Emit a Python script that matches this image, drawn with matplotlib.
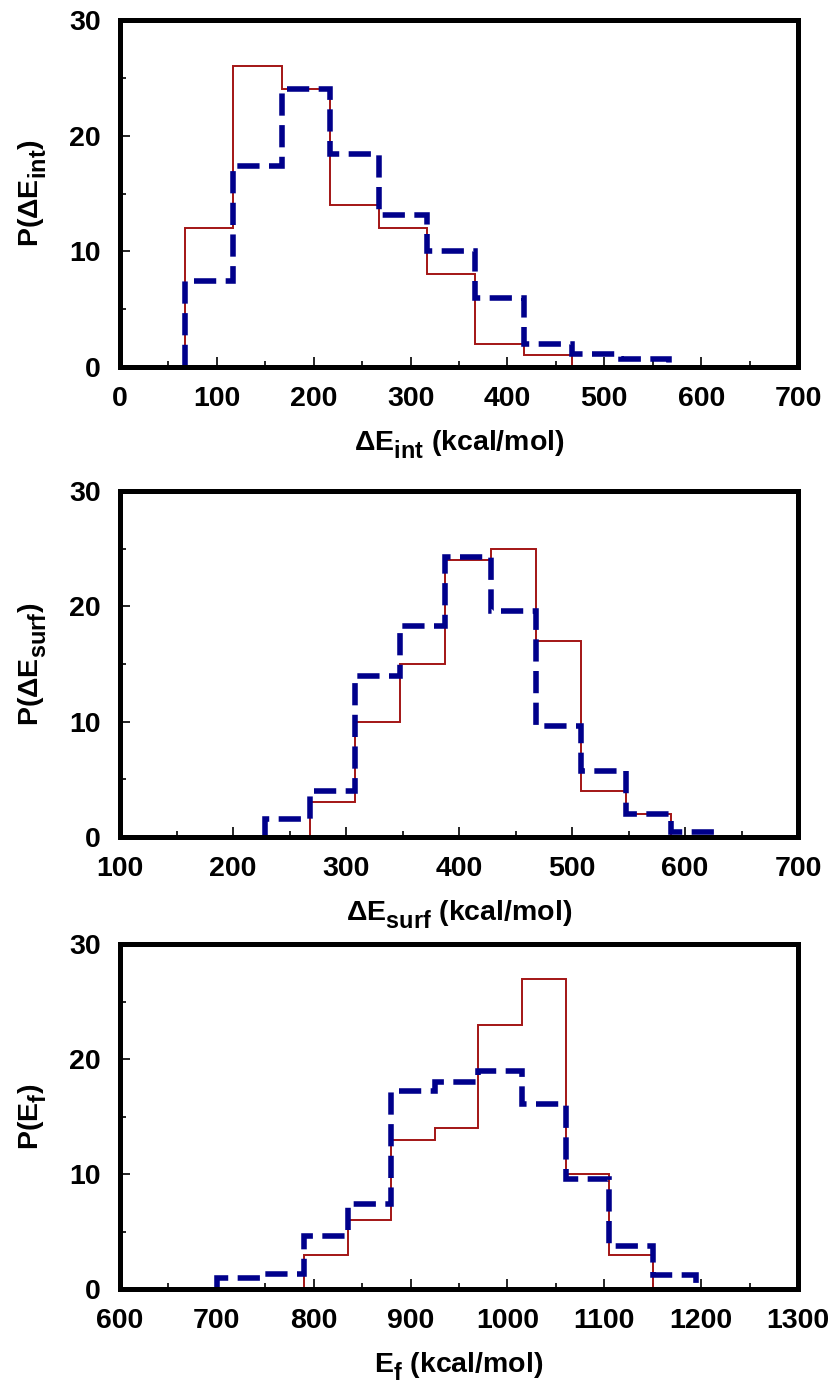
import matplotlib
matplotlib.use("Agg")
import matplotlib.pyplot as plt
from matplotlib.ticker import MultipleLocator
import matplotlib._mathtext as _mt

# larger, lower subscripts, like the reference
_mt.SHRINK_FACTOR = 0.82
_mt.FontConstantsBase.sub1 = 0.55
_mt.FontConstantsBase.sub2 = 0.6

plt.rcParams['font.family'] = ['Liberation Sans', 'DejaVu Sans']
plt.rcParams['font.weight'] = 'bold'
plt.rcParams['mathtext.fontset'] = 'custom'
plt.rcParams['mathtext.rm'] = 'Liberation Sans:bold'
plt.rcParams['mathtext.it'] = 'Liberation Sans:bold'
plt.rcParams['mathtext.bf'] = 'Liberation Sans:bold'

# Panel 1: interaction energy
red1_edges = [67, 117, 167, 217, 267, 317, 367, 417, 467]
red1_vals = [12, 26, 24, 14, 12, 8, 2, 1]
blue1_edges = [67, 117, 167, 217, 267, 317, 367, 417, 467, 517, 567]
blue1_vals = [7.4, 17.4, 24, 18.4, 13.1, 10, 6, 2, 1.1, 0.7]

# Panel 2: surface energy
red2_edges = [228, 268, 308, 348, 388, 428, 468, 508, 548, 588]
red2_vals = [0, 3, 10, 15, 24, 25, 17, 4, 2]
blue2_edges = [228, 268, 308, 348, 388, 428, 468, 508, 548, 588, 628]
blue2_vals = [1.6, 4, 14, 18.3, 24.3, 19.6, 9.6, 5.7, 2.0, 0.4]

# Panel 3: formation energy
red3_edges = [700, 745, 790, 835, 880, 925, 970, 1015, 1060, 1105, 1150]
red3_vals = [0, 0, 3, 6, 13, 14, 23, 27, 10, 3]
blue3_edges = [700, 745, 790, 835, 880, 925, 970, 1015, 1060, 1105, 1150, 1195]
blue3_vals = [1.0, 1.3, 4.6, 7.4, 17.2, 18.0, 19.0, 16.1, 9.6, 3.7, 1.2]

xlims = [(0, 700), (100, 700), (600, 1300)]
xlabels = [r'ΔE$_{int}$ (kcal/mol)', r'ΔE$_{surf}$ (kcal/mol)', r'E$_{f}$ (kcal/mol)']
ylabels = [r'P(ΔE$_{int}$)', r'P(ΔE$_{surf}$)', r'P(E$_{f}$)']

panels = [
    (red1_edges, red1_vals, blue1_edges, blue1_vals),
    (red2_edges, red2_vals, blue2_edges, blue2_vals),
    (red3_edges, red3_vals, blue3_edges, blue3_vals),
]

W, H = 834, 1391
fig = plt.figure(figsize=(W / 100, H / 100), dpi=100)

boxes = [(20, 367), (491, 837), (944, 1289)]
left, right = 120, 798

RED = '#A31515'
BLUE = '#00008B'

for i, ((re, rv, be, bv), (top, bot)) in enumerate(zip(panels, boxes)):
    ax = fig.add_axes([left / W, 1 - bot / H, (right - left) / W, (bot - top) / H])
    ax.stairs(rv, re, baseline=0, color=RED, linewidth=1.4, zorder=2)
    ln = ax.stairs(bv, be, baseline=0, color=BLUE, linewidth=4.0, zorder=3)
    ln.set_linestyle((0, (4.0, 1.7)))
    ax.set_xlim(*xlims[i])
    ax.set_ylim(0, 30)
    ax.xaxis.set_major_locator(MultipleLocator(100))
    ax.xaxis.set_minor_locator(MultipleLocator(50))
    ax.yaxis.set_major_locator(MultipleLocator(10))
    ax.yaxis.set_minor_locator(MultipleLocator(5))
    ax.tick_params(which='both', direction='in', top=False, right=False,
                   width=1.2, color='black')
    ax.tick_params(which='major', length=7, labelsize=20.5, pad=14)
    ax.tick_params(which='minor', length=4)
    for lab in ax.get_xticklabels() + ax.get_yticklabels():
        lab.set_fontweight('bold')
    for sp in ax.spines.values():
        sp.set_linewidth(3.6)
        sp.set_zorder(4)
    ax.set_xlabel(xlabels[i], fontsize=20.5, fontweight='bold', labelpad=12)
    ax.set_ylabel(ylabels[i], fontsize=20.5, fontweight='bold', labelpad=14)

fig.savefig('out.png', dpi=100)
